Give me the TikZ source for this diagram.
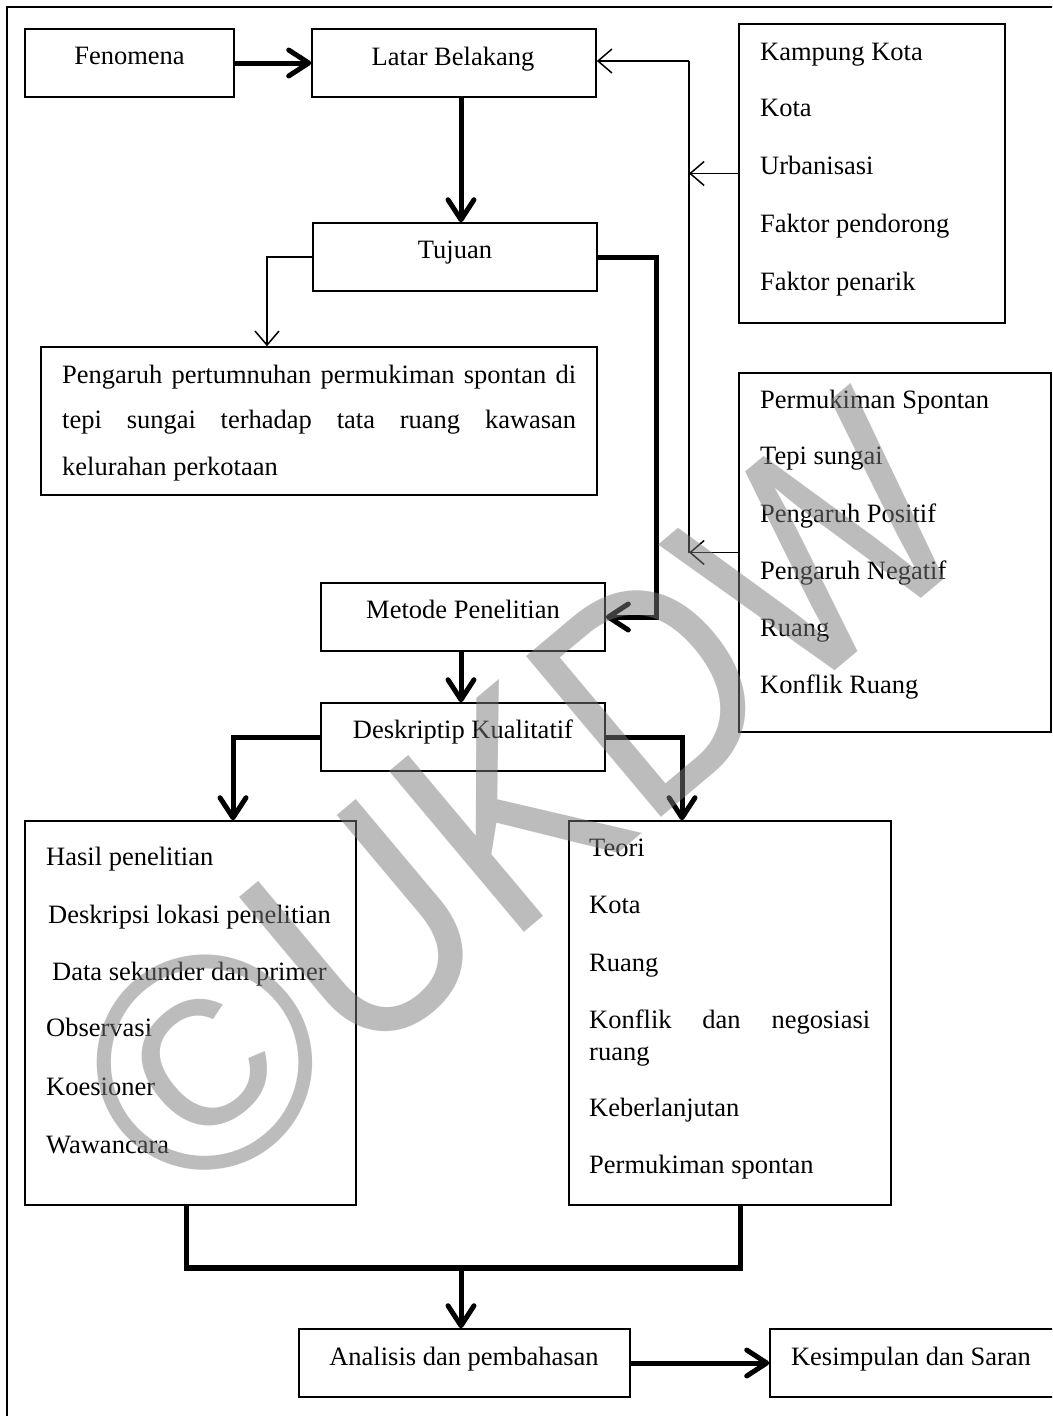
\documentclass[tikz,border=0pt]{standalone}
\usepackage{fontspec}
\setmainfont{Liberation Serif}
\newfontfamily\wmfont{Liberation Sans}
\usetikzlibrary{arrows.meta,calc}
\definecolor{wmgray}{RGB}{122,122,122}
\tikzset{
  box/.style={draw, line width=1.6pt, inner sep=0pt, minimum width=#1},
  boxh/.style={minimum height=#1},
  txt/.style={inner sep=0pt, anchor=base west},
  ctxt/.style={inner sep=0pt, anchor=base},
  thinline/.style={line width=1.5pt},
  thinarr/.style={line width=1.5pt, -{Straight Barb[length=14pt,width=24pt]}},
  thickline/.style={line width=5pt},
  thickarr/.style={line width=5pt, -{Straight Barb[length=20pt,width=26pt,round]}},
  wm/.style={inner sep=0pt, anchor=base west, text=wmgray, text opacity=0.5,
             font=\wmfont\fontsize{305}{305}\selectfont},
}
\begin{document}
\begin{tikzpicture}[x=1pt,y=-1pt,font=\fontsize{26.5}{30}\selectfont]
\useasboundingbox (0,0) rectangle (1052,1416);
\clip (0,0) rectangle (1052,1416);
% outer frame
\draw[line width=2pt] (7,1440) -- (7,6.5) -- (1070,6.5);

% boxes
\node[box=209, boxh=68] (fen) at (129.5,63) {};
\node[box=284, boxh=68] (lat) at (454,63) {};
\node[box=266, boxh=299] (kam) at (872,173.5) {};
\node[box=284, boxh=68] (tuj) at (455,257) {};
\node[box=556, boxh=148] (peng) at (319,421) {};
\node[box=312, boxh=359] (perm) at (895,552.5) {};
\node[box=284, boxh=68] (met) at (463,617) {};
\node[box=284, boxh=68] (desk) at (463,737) {};
\node[box=331, boxh=384] (has) at (190.5,1013) {};
\node[box=322, boxh=384] (teo) at (730,1013) {};
\node[box=331, boxh=68] (ana) at (464.5,1363) {};
\node[box=292, boxh=68] (kes) at (916,1363) {};

% texts
\node[ctxt] (tfen) at (129.5,64) {Fenomena};
\node[ctxt] (tlat) at (453,65) {Latar Belakang};
\node[ctxt] (ttuj) at (455,258) {Tujuan};
\node[ctxt] (tmet) at (463,618) {Metode Penelitian};
\node[ctxt] (tdesk) at (463,738) {Deskriptip Kualitatif};
\node[ctxt] (tana) at (464,1365) {Analisis dan pembahasan};
\node[ctxt] (tkes) at (911,1365) {Kesimpulan dan Saran};

\node[txt] (k1) at (760,60) {Kampung Kota};
\node[txt] (k2) at (760,116) {Kota};
\node[txt] (k3) at (760,174) {Urbanisasi};
\node[txt] (k4) at (760,232) {Faktor pendorong};
\node[txt] (k5) at (760,290) {Faktor penarik};

\node[txt] (p1) at (62,383) {\makebox[514pt][s]{Pengaruh pertumnuhan permukiman spontan di}};
\node[txt] (p2) at (62,428) {\makebox[514pt][s]{tepi sungai terhadap tata ruang kawasan}};
\node[txt] (p3) at (62,475) {kelurahan perkotaan};

\node[txt] (s1) at (760,408) {Permukiman Spontan};
\node[txt] (s2) at (760,464) {Tepi sungai};
\node[txt] (s3) at (760,522) {Pengaruh Positif};
\node[txt] (s4) at (760,579) {Pengaruh Negatif};
\node[txt] (s5) at (760,636) {Ruang};
\node[txt] (s6) at (760,693) {Konflik Ruang};

\node[txt] (h1) at (46,865) {Hasil penelitian};
\node[txt] (h2) at (48,923) {Deskripsi lokasi penelitian};
\node[txt] (h3) at (52,980) {Data sekunder dan primer};
\node[txt] (h4) at (46,1036) {Observasi};
\node[txt] (h5) at (46,1095) {Koesioner};
\node[txt] (h6) at (46,1153) {Wawancara};

\node[txt] (r1) at (589,856) {Teori};
\node[txt] (r2) at (589,913) {Kota};
\node[txt] (r3) at (589,971) {Ruang};
\node[txt] (r4) at (589,1028) {\makebox[281pt][s]{Konflik dan negosiasi}};
\node[txt] (r5) at (589,1060) {ruang};
\node[txt] (r6) at (589,1116) {Keberlanjutan};
\node[txt] (r7) at (589,1173) {Permukiman spontan};

% helper coordinates
\coordinate (cx) at (461,0);
\coordinate (bt) at (689,61);
\coordinate (tl) at (267,0);
\coordinate (tr) at (656,0);
\coordinate (dl) at (233,0);
\coordinate (dr) at (682,0);
\coordinate (hb) at (186,1268);
\coordinate (tb) at (740,1268);

% connectors
\draw[thickarr] (fen.east) -- (lat.west);
\draw[thickarr] (lat.south -| cx) -- (tuj.north -| cx);
\draw[thinline] (bt) -- (bt |- perm.west);
\draw[thinarr] (bt) -- (bt -| lat.east);
\draw[thinarr] (kam.west) -- (kam.west -| bt);
\draw[thinarr] (perm.west) -- (perm.west -| bt);
\draw[thinarr] (tuj.west) -| (tl |- peng.north);
\draw[thickarr] (tuj.east) -| (tr |- met.east) -- (met.east);
\draw[thickarr] (met.south -| cx) -- (desk.north -| cx);
\draw[thickarr] (desk.west) -| (dl |- has.north);
\draw[thickarr] (desk.east) -| (dr |- teo.north);
\draw[thickline] (has.south -| hb) -- (hb);
\draw[thickline] (teo.south -| tb) -- (tb);
\draw[line width=6.5pt] ([xshift=-2.5pt]hb) -- ([xshift=2.5pt]tb);
\draw[thickarr] (hb -| cx) -- (ana.north -| cx);
\draw[thickarr] (ana.east) -- (kes.west);

% watermark
\node[wm, rotate=40] (wmc) at (186,1216) {©};
\node[wm, rotate=40, xscale=0.88] (wmt) at (wmc.base east) {UKDW};
\end{tikzpicture}
\end{document}
